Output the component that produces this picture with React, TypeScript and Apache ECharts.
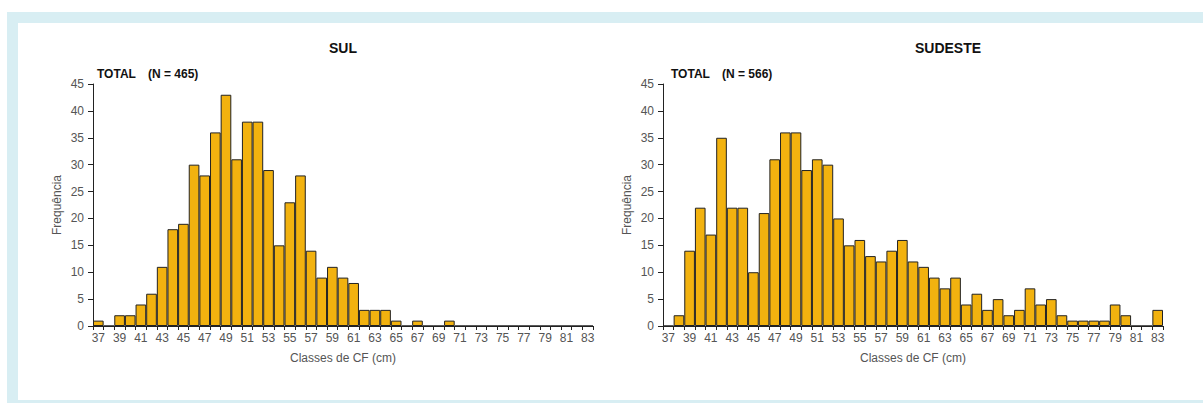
import React, { useEffect, useRef } from "react";
import * as echarts from "echarts";

const classes = [
  "37", "38", "39", "40", "41", "42", "43", "44", "45", "46", "47", "48", "49", "50", "51", "52",
  "53", "54", "55", "56", "57", "58", "59", "60", "61", "62", "63", "64", "65", "66", "67", "68",
  "69", "70", "71", "72", "73", "74", "75", "76", "77", "78", "79", "80", "81", "82", "83",
];

const sulValues = [
  1, 0, 2, 2, 4, 6, 11, 18, 19, 30, 28, 36, 43, 31, 38, 38,
  29, 15, 23, 28, 14, 9, 11, 9, 8, 3, 3, 3, 1, 0, 1, 0,
  0, 1, 0, 0, 0, 0, 0, 0, 0, 0, 0, 0, 0, 0, 0,
];

const sudesteValues = [
  0, 2, 14, 22, 17, 35, 22, 22, 10, 21, 31, 36, 36, 29, 31, 30,
  20, 15, 16, 13, 12, 14, 16, 12, 11, 9, 7, 9, 4, 6, 3, 5,
  2, 3, 7, 4, 5, 2, 1, 1, 1, 1, 4, 2, 0, 0, 3,
];

const panelTitles = ["SUL", "SUDESTE"];
const totalLabels = ["(N = 465)", "(N = 566)"];
const yTicks = { min: 0, max: 45, interval: 5 };
const xAxisName = "Classes de CF (cm)";
const yAxisName = "Frequência";

const FONT = "'Liberation Sans', Arial, sans-serif";
const BAR = "#f2b20f";
const FRAME = "#d8eef3";

export default function App() {
  const ref = useRef<HTMLDivElement>(null);

  useEffect(() => {
    if (!ref.current) return;
    const chart = echarts.init(ref.current, null, { renderer: "svg" });

    const grids = [
      { left: 93, top: 84, width: 500, height: 242 },
      { left: 663, top: 84, width: 500, height: 242 },
    ];

    const xAxes = grids.map((_, i) => ({
      type: "category",
      gridIndex: i,
      data: classes,
      boundaryGap: true,
      name: xAxisName,
      nameLocation: "middle",
      nameGap: 26,
      nameTextStyle: { color: "#555", fontSize: 12, fontFamily: FONT },
      axisLine: { show: true, lineStyle: { color: "#222", width: 1 } },
      axisTick: { show: true, interval: 0, alignWithLabel: false, length: 4, lineStyle: { color: "#222" } },
      axisLabel: { interval: 1, color: "#555", fontSize: 12, fontFamily: FONT, margin: 6 },
      splitLine: { show: false },
    }));

    const yAxes = grids.map((_, i) => ({
      type: "value",
      gridIndex: i,
      min: yTicks.min,
      max: yTicks.max,
      interval: yTicks.interval,
      name: yAxisName,
      nameLocation: "middle",
      nameGap: 30,
      nameTextStyle: { color: "#555", fontSize: 12, fontFamily: FONT },
      axisLine: { show: true, lineStyle: { color: "#222", width: 1 } },
      axisTick: { show: true, length: 5, lineStyle: { color: "#222" } },
      axisLabel: { color: "#555", fontSize: 12, fontFamily: FONT, margin: 9 },
      splitLine: { show: false },
    }));

    const mkSeries = (data: number[], i: number) => ({
      type: "bar",
      xAxisIndex: i,
      yAxisIndex: i,
      data,
      barWidth: "100%",
      barCategoryGap: "0%",
      itemStyle: { color: BAR, borderColor: "#222", borderWidth: 1 },
      silent: true,
    });

    const titleX = [343, 948];
    const totalX = [97, 671];
    const nX = [148, 722];

    const graphics: any[] = [
      { type: "rect", shape: { x: 7, y: 12, width: 1196, height: 11 }, style: { fill: FRAME } },
      { type: "rect", shape: { x: 7, y: 12, width: 11, height: 391 }, style: { fill: FRAME } },
      { type: "rect", shape: { x: 7, y: 400, width: 1196, height: 3 }, style: { fill: FRAME } },
    ];
    panelTitles.forEach((t, i) => {
      graphics.push({
        type: "text",
        x: titleX[i],
        y: 48,
        style: { text: t, fill: "#111", font: `bold 14px ${FONT}`, textAlign: "center", textVerticalAlign: "middle" },
      });
      graphics.push({
        type: "text",
        x: totalX[i],
        y: 74,
        style: { text: "TOTAL", fill: "#111", font: `bold 12px ${FONT}`, textAlign: "left", textVerticalAlign: "middle" },
      });
      graphics.push({
        type: "text",
        x: nX[i],
        y: 74,
        style: { text: totalLabels[i], fill: "#111", font: `bold 12px ${FONT}`, textAlign: "left", textVerticalAlign: "middle" },
      });
    });

    chart.setOption({
      animation: false,
      backgroundColor: "#ffffff",
      grid: grids,
      xAxis: xAxes,
      yAxis: yAxes,
      series: [mkSeries(sulValues, 0), mkSeries(sudesteValues, 1)],
      graphic: graphics,
    });

    return () => chart.dispose();
  }, []);

  return (
    <div
      ref={ref}
      style={{ position: "fixed", left: 0, top: 0, width: 1203, height: 403, background: "#fff" }}
    />
  );
}
